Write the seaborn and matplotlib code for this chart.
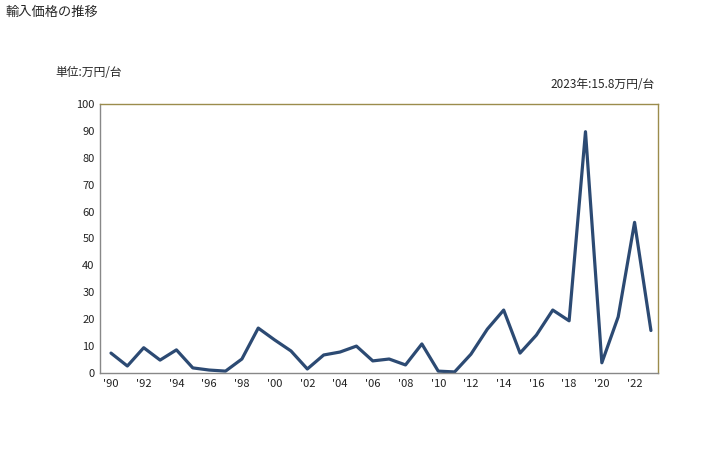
import matplotlib
matplotlib.use("Agg")
import matplotlib.pyplot as plt
import seaborn as sns
import pandas as pd

years = list(range(1990, 2024))
values = [7.4, 2.6, 9.4, 4.8, 8.6, 1.9, 1.1, 0.7, 5.2, 16.7,
          12.3, 8.2, 1.5, 6.7, 7.8, 10.0, 4.5, 5.2, 3.0, 10.8,
          0.7, 0.4, 7.0, 16.3, 23.4, 7.4, 14.1, 23.4, 19.4, 89.7,
          3.8, 20.9, 56.0, 15.8]
tick_years = list(range(1990, 2024, 2))
tick_labels = ["'" + str(y)[2:] for y in tick_years]

sns.set_theme(style="white")
plt.rcParams['font.family'] = ['Noto Sans CJK JP', 'DejaVu Sans']

df = pd.DataFrame({"year": years, "value": values})
fig = plt.figure(figsize=(7.28, 4.5), dpi=100)
ax = fig.add_axes([0.1374, 0.1711, 0.7664, 0.5978])
sns.lineplot(data=df, x="year", y="value", ax=ax, color="#2C4A73", linewidth=2.3)

ax.set_xlim(1989.33, 2023.43)
ax.set_ylim(0, 100)
ax.set_yticks(range(0, 101, 10))
ax.set_xticks(tick_years)
ax.set_xticklabels(tick_labels)
ax.set_xlabel("")
ax.set_ylabel("")
ax.tick_params(axis='both', labelsize=8, length=0, pad=4, colors="#222222")
for s in ["left", "bottom"]:
    ax.spines[s].set_color("#888888")
    ax.spines[s].set_linewidth(1)
for s in ["top", "right"]:
    ax.spines[s].set_color("#9B8C4C")
    ax.spines[s].set_linewidth(1)

fig.text(5/728, 1 - 12/450, "輸入価格の推移", fontsize=9.5, va="center", ha="left")
fig.text(55/728, 1 - 73/450, "単位:万円/台", fontsize=8.5, va="center", ha="left")
fig.text(655/728, 1 - 85/450, "2023年:15.8万円/台", fontsize=8.5, va="center", ha="right")

fig.savefig("out.png", dpi=100)
